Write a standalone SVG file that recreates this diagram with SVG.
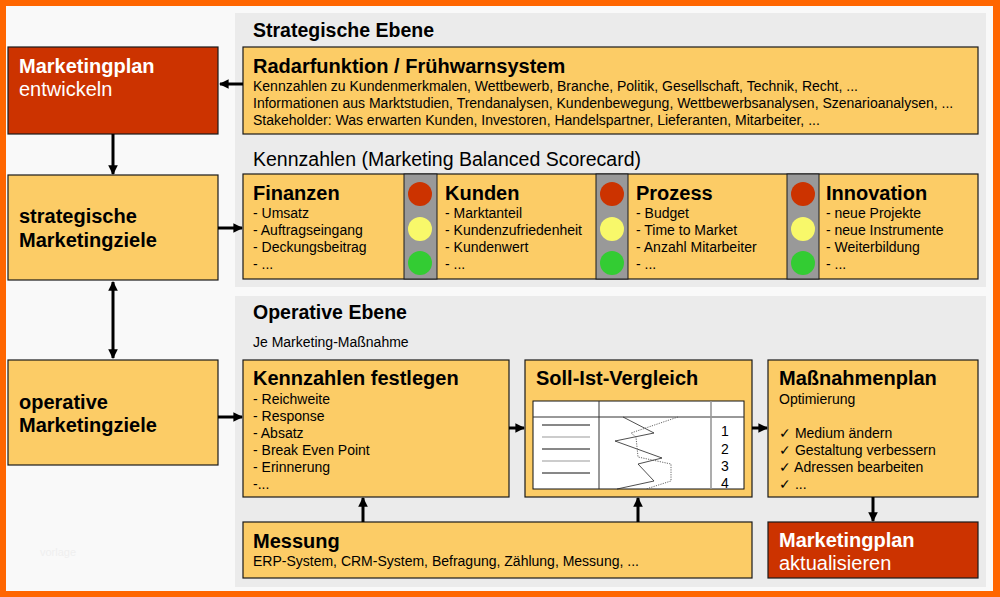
<svg xmlns="http://www.w3.org/2000/svg" width="1000" height="597" viewBox="0 0 1000 597">
<defs>
<style>
text{font-family:"Liberation Sans",Arial,sans-serif;fill:#000}
.box{fill:#FCCC66;stroke:#1a1a1a;stroke-width:1.2}
.red{fill:#CC3300;stroke:#1a1a1a;stroke-width:1.2}
.panel{fill:#EBEBEB}
.h{font-size:20px;font-weight:bold}
.hw{font-size:20px;font-weight:bold;fill:#fff}
.nw{font-size:20px;fill:#fff}
.t{font-size:14px}
.sec{font-size:19.5px;font-weight:bold}
.con{stroke:#000;stroke-width:3;fill:none}
.tl{fill:#999;stroke:#1a1a1a;stroke-width:1}
</style>
<marker id="ah" viewBox="0 0 10 10" refX="9" refY="5" markerWidth="3.2" markerHeight="3.2" orient="auto-start-reverse" markerUnits="strokeWidth">
<path d="M0,0 L10,5 L0,10 z" fill="#000"/>
</marker>
</defs>
<rect x="0" y="0" width="1000" height="597" fill="#FF6600"/>
<rect x="6" y="6" width="987" height="585" fill="#F9F9F9"/>
<text x="40" y="556" style="font-size:11px;fill:#EFEFEF">vorlage</text>

<g id="panel-strategisch">
<rect class="panel" x="235" y="13" width="751" height="274"/>
<text class="sec" x="253" y="37">Strategische Ebene</text>
<text x="253" y="166" style="font-size:19.5px">Kennzahlen (Marketing Balanced Scorecard)</text>
</g>
<g id="panel-operativ">
<rect class="panel" x="235" y="296" width="751" height="291"/>
<text class="sec" x="253" y="319">Operative Ebene</text>
<text x="253" y="347" style="font-size:14px">Je Marketing-Maßnahme</text>
</g>

<g id="mp-entwickeln">
<rect class="red" x="8" y="47" width="210" height="87"/>
<text class="hw" x="19" y="73">Marketingplan</text>
<text class="nw" x="19" y="96">entwickeln</text>
</g>
<g id="strat-ziele">
<rect class="box" x="8" y="175" width="210" height="105"/>
<text class="h" x="19" y="223">strategische</text>
<text class="h" x="19" y="247">Marketingziele</text>
</g>
<g id="op-ziele">
<rect class="box" x="8" y="360" width="210" height="105"/>
<text class="h" x="19" y="409">operative</text>
<text class="h" x="19" y="432">Marketingziele</text>
</g>

<g id="radar">
<rect class="box" x="243" y="47" width="735" height="87"/>
<text class="h" x="253" y="73">Radarfunktion / Frühwarnsystem</text>
<text class="t" x="253" y="91">Kennzahlen zu Kundenmerkmalen, Wettbewerb, Branche, Politik, Gesellschaft, Technik, Recht, ...</text>
<text class="t" x="253" y="108">Informationen aus Marktstudien, Trendanalysen, Kundenbewegung, Wettbewerbsanalysen, Szenarioanalysen, ...</text>
<text class="t" x="253" y="125">Stakeholder: Was erwarten Kunden, Investoren, Handelspartner, Lieferanten, Mitarbeiter, ...</text>
</g>

<g id="scorecard">
<rect class="box" x="243" y="174" width="735" height="105"/>
<rect class="tl" x="404" y="174" width="33" height="105"/>
<rect class="tl" x="596" y="174" width="32" height="105"/>
<rect class="tl" x="787" y="174" width="32" height="105"/>
<g id="ampel-1"><circle cx="420" cy="194" r="12" fill="#CC3300"/><circle cx="420" cy="229" r="12" fill="#F8F86A"/><circle cx="420" cy="263" r="12" fill="#33CC33"/></g>
<g id="ampel-2"><circle cx="612" cy="194" r="12" fill="#CC3300"/><circle cx="612" cy="229" r="12" fill="#F8F86A"/><circle cx="612" cy="263" r="12" fill="#33CC33"/></g>
<g id="ampel-3"><circle cx="803" cy="194" r="12" fill="#CC3300"/><circle cx="803" cy="229" r="12" fill="#F8F86A"/><circle cx="803" cy="263" r="12" fill="#33CC33"/></g>
<g id="finanzen">
<text class="h" x="253" y="200">Finanzen</text>
<text class="t" x="253" y="218">- Umsatz</text>
<text class="t" x="253" y="235">- Auftragseingang</text>
<text class="t" x="253" y="252">- Deckungsbeitrag</text>
<text class="t" x="253" y="269">- ...</text>
</g>
<g id="kunden">
<text class="h" x="445" y="200">Kunden</text>
<text class="t" x="445" y="218">- Marktanteil</text>
<text class="t" x="445" y="235">- Kundenzufriedenheit</text>
<text class="t" x="445" y="252">- Kundenwert</text>
<text class="t" x="445" y="269">- ...</text>
</g>
<g id="prozess">
<text class="h" x="636" y="200">Prozess</text>
<text class="t" x="636" y="218">- Budget</text>
<text class="t" x="636" y="235">- Time to Market</text>
<text class="t" x="636" y="252">- Anzahl Mitarbeiter</text>
<text class="t" x="636" y="269">- ...</text>
</g>
<g id="innovation">
<text class="h" x="826" y="200">Innovation</text>
<text class="t" x="826" y="218">- neue Projekte</text>
<text class="t" x="826" y="235">- neue Instrumente</text>
<text class="t" x="826" y="252">- Weiterbildung</text>
<text class="t" x="826" y="269">- ...</text>
</g>
</g>

<g id="kennzahlen-festlegen">
<rect class="box" x="243" y="360" width="266" height="137"/>
<text class="h" x="253" y="385">Kennzahlen festlegen</text>
<text class="t" x="253" y="404">- Reichweite</text>
<text class="t" x="253" y="421">- Response</text>
<text class="t" x="253" y="438">- Absatz</text>
<text class="t" x="253" y="455">- Break Even Point</text>
<text class="t" x="253" y="472">- Erinnerung</text>
<text class="t" x="253" y="489">-...</text>
</g>

<g id="soll-ist">
<rect class="box" x="525" y="360" width="227" height="137"/>
<text class="h" x="536" y="385">Soll-Ist-Vergleich</text>
<rect x="533" y="401" width="211" height="88" fill="#fff" stroke="#111" stroke-width="1"/>
<line x1="533" y1="417" x2="744" y2="417" stroke="#333" stroke-width="1"/>
<line x1="599" y1="401" x2="599" y2="489" stroke="#333" stroke-width="1"/>
<line x1="711" y1="401" x2="711" y2="489" stroke="#999" stroke-width="1.6"/>
<line x1="542" y1="425" x2="590" y2="425" stroke="#111" stroke-width="1"/>
<line x1="542" y1="437" x2="590" y2="437" stroke="#999" stroke-width="1"/>
<line x1="542" y1="449" x2="590" y2="449" stroke="#111" stroke-width="1"/>
<line x1="542" y1="461" x2="590" y2="461" stroke="#999" stroke-width="1"/>
<line x1="542" y1="473" x2="590" y2="473" stroke="#111" stroke-width="1"/>
<polyline points="623,417 654,433 615,441 662,458 638,464 654,481 617,489" fill="none" stroke="#222" stroke-width="0.8"/>
<polyline points="678,417 631,433 636,437 638,457 671,464 671,481 646,489" fill="none" stroke="#555" stroke-width="0.9" stroke-dasharray="1.2,1.2"/>
<text x="725" y="436" text-anchor="middle" style="font-size:14px">1</text>
<text x="725" y="454" text-anchor="middle" style="font-size:14px">2</text>
<text x="725" y="471" text-anchor="middle" style="font-size:14px">3</text>
<text x="725" y="488" text-anchor="middle" style="font-size:14px">4</text>
</g>

<g id="massnahmenplan">
<rect class="box" x="768" y="360" width="210" height="137"/>
<text class="h" x="779" y="385">Maßnahmenplan</text>
<text class="t" x="779" y="404">Optimierung</text>
<text class="t" x="779" y="438">✓ Medium ändern</text>
<text class="t" x="779" y="455">✓ Gestaltung verbessern</text>
<text class="t" x="779" y="472">✓ Adressen bearbeiten</text>
<text class="t" x="779" y="489">✓ ...</text>
</g>

<g id="messung">
<rect class="box" x="243" y="522" width="509" height="56"/>
<text class="h" x="253" y="548">Messung</text>
<text class="t" x="253" y="566">ERP-System, CRM-System, Befragung, Zählung, Messung, ...</text>
</g>

<g id="mp-aktualisieren">
<rect class="red" x="768" y="522" width="210" height="56"/>
<text class="hw" x="779" y="547">Marketingplan</text>
<text class="nw" x="779" y="570">aktualisieren</text>
</g>

<g id="connectors">
<line class="con" x1="243" y1="84" x2="220" y2="84" marker-end="url(#ah)"/>
<line class="con" x1="113" y1="134" x2="113" y2="174" marker-end="url(#ah)"/>
<line class="con" x1="218" y1="228" x2="242" y2="228" marker-end="url(#ah)"/>
<line class="con" x1="113" y1="282" x2="113" y2="358" marker-start="url(#ah)" marker-end="url(#ah)"/>
<line class="con" x1="218" y1="417" x2="242" y2="417" marker-end="url(#ah)"/>
<line class="con" x1="509" y1="428" x2="524" y2="428" marker-end="url(#ah)"/>
<line class="con" x1="752" y1="428" x2="767" y2="428" marker-end="url(#ah)"/>
<line class="con" x1="363" y1="522" x2="363" y2="498" marker-end="url(#ah)"/>
<line class="con" x1="638" y1="522" x2="638" y2="498" marker-end="url(#ah)"/>
<line class="con" x1="873" y1="497" x2="873" y2="521" marker-end="url(#ah)"/>
</g>
</svg>
